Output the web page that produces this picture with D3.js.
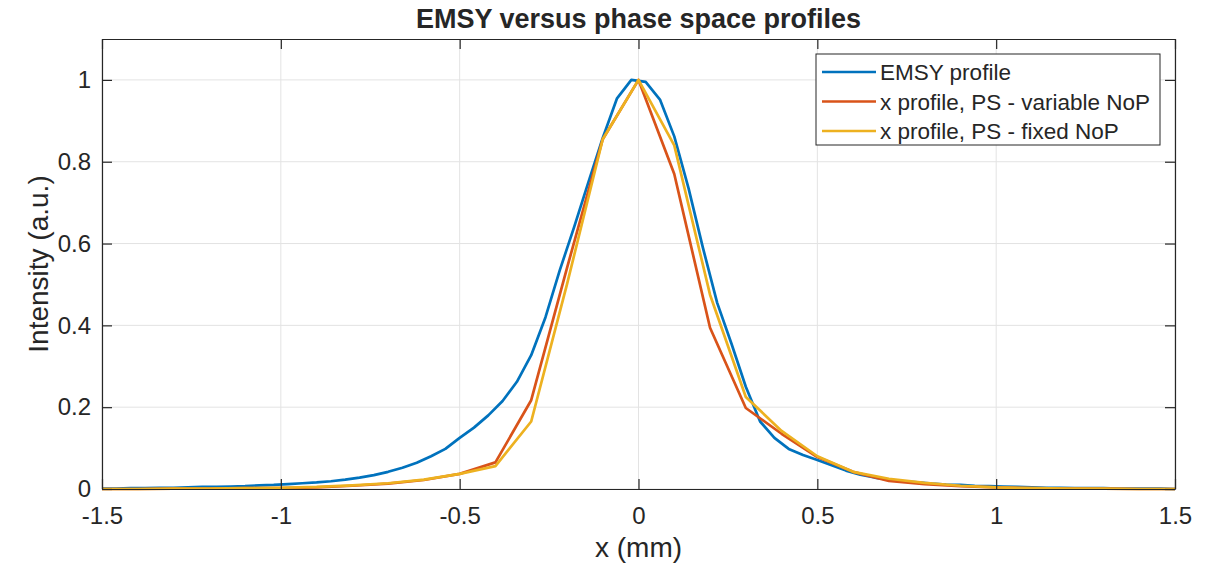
<!DOCTYPE html>
<html>
<head>
<meta charset="utf-8">
<script src="https://cdn.jsdelivr.net/npm/d3@7"></script>
<style>
  body { margin: 0; background: #fff; }
  text { font-family: "Liberation Sans", Arial, sans-serif; fill: #262626; }
</style>
</head>
<body>
<div id="chart"></div>
<script>
// EMSY profile, sampled every 0.04 mm
const emsyX = [-1.50, -1.46, -1.42, -1.38, -1.34, -1.30, -1.26, -1.22, -1.18, -1.14,
  -1.10, -1.06, -1.02, -0.98, -0.94, -0.90, -0.86, -0.82, -0.78, -0.74,
  -0.70, -0.66, -0.62, -0.58, -0.54, -0.50, -0.46, -0.42, -0.38, -0.34,
  -0.30, -0.26, -0.22, -0.18, -0.14, -0.10, -0.06, -0.02, 0.02, 0.06,
  0.10, 0.14, 0.18, 0.22, 0.26, 0.30, 0.34, 0.38, 0.42, 0.46,
  0.50, 0.54, 0.58, 0.62, 0.66, 0.70, 0.74, 0.78, 0.82, 0.86,
  0.90, 0.94, 0.98, 1.02, 1.06, 1.10, 1.14, 1.18, 1.22, 1.26,
  1.30, 1.34, 1.38, 1.42, 1.46, 1.50];
const emsyY = [0.001, 0.001, 0.002, 0.002, 0.003, 0.003, 0.004, 0.005, 0.005, 0.006,
  0.007, 0.009, 0.010, 0.012, 0.014, 0.016, 0.019, 0.023, 0.028, 0.034,
  0.042, 0.052, 0.064, 0.080, 0.098, 0.125, 0.150, 0.180, 0.215, 0.262,
  0.327, 0.420, 0.535, 0.640, 0.750, 0.858, 0.955, 1.000, 0.995, 0.952,
  0.862, 0.735, 0.590, 0.455, 0.355, 0.250, 0.165, 0.125, 0.098, 0.083,
  0.071, 0.058, 0.045, 0.035, 0.028, 0.023, 0.019, 0.016, 0.013, 0.011,
  0.010, 0.008, 0.007, 0.006, 0.005, 0.004, 0.003, 0.003, 0.002, 0.002,
  0.002, 0.001, 0.001, 0.001, 0.001, 0.000];

// phase space profiles, sampled every 0.1 mm
const psX = [-1.5, -1.4, -1.3, -1.2, -1.1, -1.0, -0.9, -0.8, -0.7, -0.6, -0.5,
  -0.4, -0.3, -0.2, -0.1, 0.0, 0.1, 0.2, 0.3, 0.4, 0.5,
  0.6, 0.7, 0.8, 0.9, 1.0, 1.1, 1.2, 1.3, 1.4, 1.5];
const variableY = [0.000, 0.000, 0.001, 0.001, 0.002, 0.002, 0.004, 0.008, 0.013, 0.022, 0.037,
  0.065, 0.217, 0.540, 0.855, 1.000, 0.770, 0.394, 0.198, 0.135, 0.078,
  0.042, 0.020, 0.012, 0.007, 0.004, 0.002, 0.001, 0.001, 0.000, 0.000];
const fixedY = [0.000, 0.000, 0.001, 0.001, 0.002, 0.003, 0.005, 0.009, 0.014, 0.023, 0.037,
  0.056, 0.165, 0.500, 0.855, 1.000, 0.840, 0.475, 0.225, 0.142, 0.080,
  0.042, 0.025, 0.015, 0.008, 0.004, 0.002, 0.001, 0.001, 0.000, 0.000];

const seriesNames = ['EMSY profile', 'x profile, PS - variable NoP', 'x profile, PS - fixed NoP'];
const seriesColors = ['#0072BD', '#D95319', '#EDB120'];

const xTicks = [-1.5, -1, -0.5, 0, 0.5, 1, 1.5];
const yTicks = [0, 0.2, 0.4, 0.6, 0.8, 1];

const width = 1218, height = 567;
const margin = { left: 102, right: 43, top: 39, bottom: 78 };

const svg = d3.select('#chart').append('svg')
  .attr('width', width)
  .attr('height', height);

const x = d3.scaleLinear().domain([-1.5, 1.5]).range([margin.left, width - margin.right]);
const y = d3.scaleLinear().domain([0, 1.1]).range([height - margin.bottom, margin.top]);

// grid
const grid = svg.append('g');
xTicks.forEach(t => {
  grid.append('line')
    .attr('x1', x(t)).attr('x2', x(t))
    .attr('y1', y(0)).attr('y2', y(1.1))
    .attr('stroke', '#e3e3e3').attr('stroke-width', 1);
});
yTicks.forEach(t => {
  grid.append('line')
    .attr('x1', x(-1.5)).attr('x2', x(1.5))
    .attr('y1', y(t)).attr('y2', y(t))
    .attr('stroke', '#e3e3e3').attr('stroke-width', 1);
});

// lines
const line = d3.line().x(d => x(d[0])).y(d => y(d[1]));
const series = [
  d3.zip(emsyX, emsyY),
  d3.zip(psX, variableY),
  d3.zip(psX, fixedY)
];
series.forEach((s, i) => {
  svg.append('path')
    .datum(s)
    .attr('d', line)
    .attr('fill', 'none')
    .attr('stroke', seriesColors[i])
    .attr('stroke-width', 2.7)
    .attr('stroke-linejoin', 'round');
});

// axes (ticks inside, on all four sides)
const tickLen = 10;
const axisColor = '#262626';
const fmt = d => String(d);
const xb = svg.append('g').attr('transform', `translate(0,${y(0)})`)
  .call(d3.axisBottom(x).tickValues(xTicks).tickSizeInner(-tickLen).tickSizeOuter(0).tickPadding(18).tickFormat(fmt));
const xt = svg.append('g').attr('transform', `translate(0,${y(1.1)})`)
  .call(d3.axisTop(x).tickValues(xTicks).tickSizeInner(-tickLen).tickSizeOuter(0).tickFormat(''));
const yl = svg.append('g').attr('transform', `translate(${x(-1.5)},0)`)
  .call(d3.axisLeft(y).tickValues(yTicks).tickSizeInner(-tickLen).tickSizeOuter(0).tickPadding(11).tickFormat(fmt));
const yr = svg.append('g').attr('transform', `translate(${x(1.5)},0)`)
  .call(d3.axisRight(y).tickValues(yTicks).tickSizeInner(-tickLen).tickSizeOuter(0).tickFormat(''));

[xb, xt, yl, yr].forEach(g => {
  g.select('.domain').attr('stroke', axisColor).attr('stroke-width', 1.2);
  g.selectAll('.tick line').attr('stroke', axisColor).attr('stroke-width', 1.2);
  g.selectAll('.tick text')
    .attr('fill', axisColor)
    .style('font-family', '"Liberation Sans", Arial, sans-serif')
    .style('font-size', '24px');
});

// titles
svg.append('text')
  .attr('x', (x(-1.5) + x(1.5)) / 2).attr('y', 28)
  .attr('text-anchor', 'middle')
  .style('font-size', '27px').style('font-weight', 'bold')
  .attr('fill', '#000')
  .text('EMSY versus phase space profiles');

svg.append('text')
  .attr('x', (x(-1.5) + x(1.5)) / 2).attr('y', 557)
  .attr('text-anchor', 'middle')
  .style('font-size', '28px')
  .text('x (mm)');

svg.append('text')
  .attr('transform', `translate(48,${(y(0) + y(1.1)) / 2}) rotate(-90)`)
  .attr('text-anchor', 'middle')
  .style('font-size', '28px')
  .text('Intensity (a.u.)');

// legend
const lg = svg.append('g').attr('transform', 'translate(816,54)');
lg.append('rect')
  .attr('width', 344).attr('height', 91)
  .attr('fill', '#fff').attr('stroke', axisColor).attr('stroke-width', 1);
seriesNames.forEach((name, i) => {
  const cy = 18 + i * 29.5;
  lg.append('line')
    .attr('x1', 6).attr('x2', 60).attr('y1', cy).attr('y2', cy)
    .attr('stroke', seriesColors[i]).attr('stroke-width', 2.7);
  lg.append('text')
    .attr('x', 64).attr('y', cy + 8)
    .style('font-size', '22.5px')
    .attr('fill', '#000')
    .text(name);
});
</script>
</body>
</html>
